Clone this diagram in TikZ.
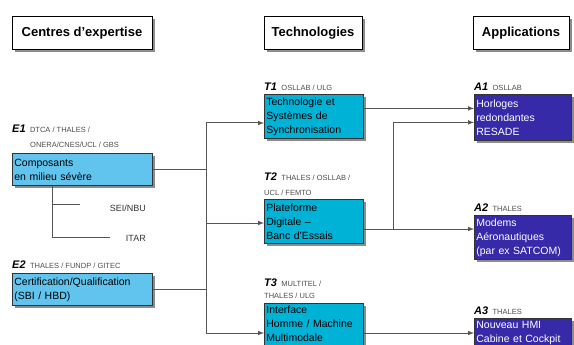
\documentclass[tikz,border=0pt]{standalone}
\usepackage{fontspec}
\setmainfont{Liberation Sans}
\usetikzlibrary{arrows,shadows,positioning}
\definecolor{expblue}{RGB}{96,196,238}
\definecolor{techblue}{RGB}{0,178,214}
\definecolor{appblue}{RGB}{54,42,168}
\definecolor{linegray}{RGB}{85,85,85}

\begin{document}
\begin{tikzpicture}[x=1pt,y=-1pt,>=latex,
  every node/.style={inner sep=0pt},
  shade/.style={drop shadow={shadow xshift=2.5pt,shadow yshift=-2.5pt,fill=black!45,opacity=1}},
  header/.style={draw,line width=0.8pt,fill=white,shade,minimum height=33pt,font=\fontsize{13}{15}\selectfont\bfseries},
  box/.style={draw=black!80,line width=0.8pt,shade,anchor=north west,align=left,inner xsep=2pt,inner ysep=3pt,font=\fontsize{10.5}{14}\selectfont},
  expbox/.style={box,fill=expblue,text width=136pt,minimum height=32pt},
  techbox/.style={box,fill=techblue,text width=95pt},
  appbox/.style={box,fill=appblue,text=white,text width=93pt},
  tag/.style={anchor=west,font=\fontsize{11}{12}\selectfont\bfseries\itshape},
  partner/.style={anchor=west,font=\fontsize{7.5}{9}\selectfont,text=black!70},
  branch/.style={font=\fontsize{9}{10}\selectfont,text=black!80},
  link/.style={draw=linegray,line width=1pt}]
  \clip (0,0) rectangle (574,345);

  % column titles
  \node[header,minimum width=140pt] (hExp) at (82,33) {Centres d'expertise};
  \node[header,minimum width=98pt] (hTech) at (313,33) {Technologies};
  \node[header,minimum width=96pt] (hApp) at (521,33) {Applications};

  % centres d'expertise
  \node[tag] (E1tag) at (12,129) {E1};
  \node[partner,base right=4pt of E1tag] (E1p) {DTCA / THALES /};
  \node[partner] (E1q) at (30,145) {ONERA/CNES/UCL / GBS};
  \node[expbox] (E1) at (12,153) {Composants\\en milieu sévère};
  \node[branch,anchor=east] (sei) at (146,208) {SEI/NBU};
  \node[branch,anchor=east] (itar) at (146,238) {ITAR};
  \node[tag] (E2tag) at (12,265) {E2};
  \node[partner,base right=4pt of E2tag] (E2p) {THALES / FUNDP / GITEC};
  \node[expbox] (E2) at (12,273) {Certification/Qualification\\(SBI / HBD)};

  % technologies
  \node[tag] (T1tag) at (264,87) {T1};
  \node[partner,base right=4pt of T1tag] (T1p) {OSLLAB / ULG};
  \node[techbox,minimum height=44pt] (T1) at (264,94) {Technologie et\\Systèmes de\\Synchronisation};
  \node[tag] (T2tag) at (264,177) {T2};
  \node[partner,base right=4pt of T2tag] (T2p) {THALES / OSLLAB /};
  \node[partner] (T2q) at (264,193) {UCL / FEMTO};
  \node[techbox,minimum height=44pt] (T2) at (264,199) {Plateforme\\Digitale --\\Banc d'Essais};
  \node[tag] (T3tag) at (264,283) {T3};
  \node[partner,base right=4pt of T3tag] (T3p) {MULTITEL /};
  \node[partner] (T3q) at (264,296) {THALES / ULG};
  \node[techbox] (T3) at (264,303) {Interface\\Homme / Machine\\Multimodale};

  % applications
  \node[tag] (A1tag) at (474,87) {A1};
  \node[partner,base right=4pt of A1tag] (A1p) {OSLLAB};
  \node[appbox,minimum height=46pt] (A1) at (474,94) {Horloges\\redondantes\\RESADE};
  \node[tag] (A2tag) at (474,208) {A2};
  \node[partner,base right=4pt of A2tag] (A2p) {THALES};
  \node[appbox,minimum height=42pt] (A2) at (474,215) {Modems\\Aéronautiques\\(par ex SATCOM)};
  \node[tag] (A3tag) at (474,311) {A3};
  \node[partner,base right=4pt of A3tag] (A3p) {THALES};
  \node[appbox] (A3) at (474,318) {Nouveau HMI\\Cabine et Cockpit};

  % links
  \coordinate (bT1) at (206,123);
  \coordinate (bT2) at (206,223);
  \coordinate (bT3) at (206,333);
  \coordinate (bA) at (393,229);
  \coordinate (brTop) at ([xshift=40pt]E1.south west);
  \coordinate (seiEnd) at (80,204);
  \coordinate (itarEnd) at (110,237);
  \draw[link] (brTop) |- (itarEnd);
  \draw[link] (brTop |- seiEnd) -- (seiEnd);
  \draw[link] (bT1) -- (bT3);
  \draw[link] (E1.east) -- (E1.east -| bT1);
  \draw[link] (E2.east) -- (E2.east -| bT1);
  \draw[link,->] (bT1) -- (T1.west |- bT1);
  \draw[link,->] (bT2) -- (T2.west |- bT2);
  \draw[link,->] (bT3) -- (T3.west |- bT3);
  \draw[link,->] ([yshift=8pt]T1.east) -- ([yshift=8pt]T1.east -| A1.west);
  \draw[link,->] (bA) |- ([yshift=-5pt]A1.west);
  \draw[link,->] (T2.east |- bA) -- (A2.west |- bA);
  \draw[link,->] (T3.east |- bT3) -- (A3.west |- bT3);
\end{tikzpicture}
\end{document}
